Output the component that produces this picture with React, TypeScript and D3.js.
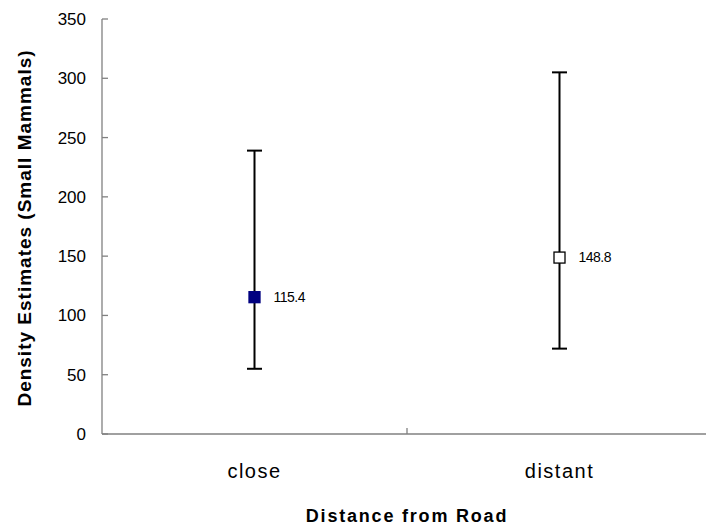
import React from "react";
import * as d3 from "d3";

// Density estimates of small mammals by distance from road
const categories = ["close", "distant"];
const means = [115.4, 148.8];
const upper = [239, 305];
const lower = [55, 72];
const markerFill = ["#000080", "#ffffff"];
const yTicks = [0, 50, 100, 150, 200, 250, 300, 350];

const W = 706;
const H = 527;
const left = 102;
const right = 712;
const top = 19;
const bottom = 434;

export default function App() {
  const x = d3.scaleBand<string>().domain(categories).range([left, right]);
  const y = d3.scaleLinear().domain([0, 350]).range([bottom, top]);
  const font = "Arial, 'Liberation Sans', sans-serif";

  return (
    <svg
      width={W}
      height={H}
      style={{ position: "absolute", left: 0, top: 0, background: "#fff" }}
      fontFamily={font}
    >
      {/* axes */}
      <line x1={left} x2={left} y1={top} y2={bottom} stroke="#808080" strokeWidth={1.3} />
      <line x1={left} x2={W} y1={bottom} y2={bottom} stroke="#808080" strokeWidth={1.3} />
      {yTicks.map((t) => (
        <g key={t}>
          <line x1={left} x2={left + 6} y1={y(t)} y2={y(t)} stroke="#808080" strokeWidth={1.3} />
          <text x={86} y={y(t)} dy="0.35em" textAnchor="end" fontSize={17} fill="#000">
            {t}
          </text>
        </g>
      ))}
      {/* category divider tick */}
      <line
        x1={(x("close") as number) + x.bandwidth()}
        x2={(x("close") as number) + x.bandwidth()}
        y1={bottom}
        y2={bottom - 6}
        stroke="#808080"
        strokeWidth={1.3}
      />
      {categories.map((c) => (
        <text
          key={c}
          x={(x(c) as number) + x.bandwidth() / 2}
          y={478}
          textAnchor="middle"
          fontSize={20}
          letterSpacing={1.5}
          fill="#000"
        >
          {c}
        </text>
      ))}

      {/* error bars and means */}
      {categories.map((c, i) => {
        const cx = (x(c) as number) + x.bandwidth() / 2;
        return (
          <g key={c}>
            <line x1={cx} x2={cx} y1={y(upper[i])} y2={y(lower[i])} stroke="#000" strokeWidth={2} />
            <line x1={cx - 7.5} x2={cx + 7.5} y1={y(upper[i])} y2={y(upper[i])} stroke="#000" strokeWidth={2} />
            <line x1={cx - 7.5} x2={cx + 7.5} y1={y(lower[i])} y2={y(lower[i])} stroke="#000" strokeWidth={2} />
            <rect
              x={cx - 5.5}
              y={y(means[i]) - 5.5}
              width={11}
              height={11}
              fill={markerFill[i]}
              stroke={i === 0 ? "#000080" : "#000"}
              strokeWidth={1.3}
            />
            <text x={cx + 19} y={y(means[i])} dy="0.35em" fontSize={14} letterSpacing={-0.5} fill="#000">
              {means[i].toFixed(1)}
            </text>
          </g>
        );
      })}

      {/* axis titles */}
      <text
        x={407}
        y={522}
        textAnchor="middle"
        fontSize={18}
        fontWeight="bold"
        letterSpacing={1.8}
        fill="#000"
      >
        Distance from Road
      </text>
      <text
        transform="translate(31, 228) rotate(-90)"
        textAnchor="middle"
        fontSize={19}
        fontWeight="bold"
        letterSpacing={1}
        fill="#000"
      >
        Density Estimates (Small Mammals)
      </text>
    </svg>
  );
}
